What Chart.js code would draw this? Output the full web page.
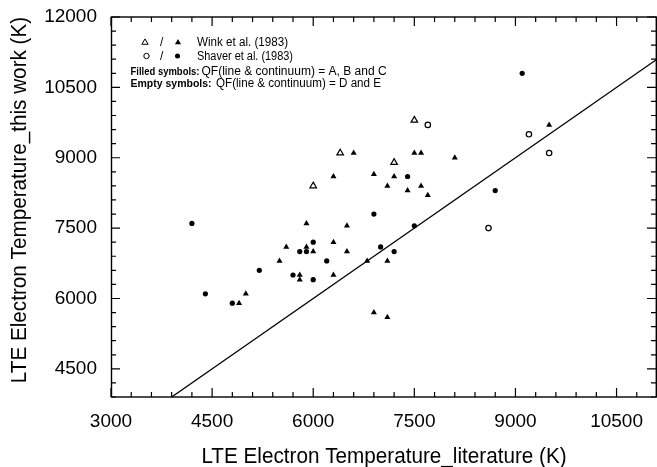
<!DOCTYPE html>
<html>
<head>
<meta charset="utf-8">
<script src="https://cdn.jsdelivr.net/npm/chart.js@4.4.1/dist/chart.umd.min.js"></script>
<style>
  html, body { margin: 0; padding: 0; background: #fff; }
</style>
</head>
<body>
<canvas id="tempChart" width="657" height="467"></canvas>
<script>
// ticks
const xTicks = [3000, 4500, 6000, 7500, 9000, 10500];
const yTicks = [4500, 6000, 7500, 9000, 10500, 12000];

// Wink et al. (1983)
const winkFilled = [
  [6600, 9100], [7500, 9100], [7600, 9100], [8100, 9000], [6300, 8600], [6900, 8650],
  [7200, 8600], [7100, 8400], [7600, 8400], [7400, 8300], [7700, 8200], [9500, 9700],
  [5900, 7600], [6500, 7550], [5600, 7100], [5900, 7100], [6300, 7200], [6000, 7000],
  [6500, 7000], [5500, 6800], [6800, 6800], [7100, 6800], [5800, 6500], [5800, 6400],
  [6300, 6500], [4900, 5900], [5000, 6100], [6900, 5700], [7100, 5600]
];
const winkEmpty = [[6400, 9100], [7200, 8900], [6000, 8400], [7500, 9800]];

// Shaver et al. (1983)
const shaverFilled = [
  [9100, 10800], [8700, 8300], [7400, 8600], [7500, 7550], [6900, 7800], [4200, 7600],
  [6000, 7200], [5900, 7000], [5800, 7000], [6200, 6800], [7000, 7100], [7200, 7000],
  [5200, 6600], [5700, 6500], [6000, 6400], [4400, 6100], [4800, 5900]
];
const shaverEmpty = [[9500, 9100], [9200, 9500], [8600, 7500], [7700, 9700]];

// one-to-one line
const oneToOne = [[3900, 3900], [11100, 11100]];

const xRange = [3000, 11100];
const yRange = [3900, 12000];

const pts = arr => arr.map(p => ({ x: p[0], y: p[1] }));
const FONT = '"Liberation Sans", Arial, sans-serif';

const framePlugin = {
  id: 'frame',
  afterDraw(chart) {
    const ctx = chart.ctx;
    const a = chart.chartArea;
    const xs = chart.scales.x, ys = chart.scales.y;
    ctx.save();
    ctx.strokeStyle = '#000';
    ctx.lineWidth = 1.4;
    ctx.strokeRect(a.left + 0.5, a.top, a.right - a.left - 1.2, a.bottom - a.top);

    // inward ticks on all four sides
    ctx.lineWidth = 1.2;
    ctx.beginPath();
    for (let v = xRange[0]; v <= xRange[1]; v += 300) {
      const major = xTicks.includes(v);
      const px = xs.getPixelForValue(v);
      const len = major ? 9 : 5;
      ctx.moveTo(px, a.bottom); ctx.lineTo(px, a.bottom - len);
      ctx.moveTo(px, a.top); ctx.lineTo(px, a.top + len);
    }
    for (let v = yRange[0]; v <= yRange[1]; v += 300) {
      const major = yTicks.includes(v);
      const py = ys.getPixelForValue(v);
      const len = major ? 9 : 5;
      ctx.moveTo(a.left, py); ctx.lineTo(a.left + len, py);
      ctx.moveTo(a.right - 1, py); ctx.lineTo(a.right - 1 - len, py);
    }
    ctx.stroke();

    // axis titles
    ctx.fillStyle = '#000';
    ctx.font = '20.7px ' + FONT;
    ctx.textAlign = 'center';
    ctx.textBaseline = 'alphabetic';
    ctx.save();
    ctx.translate((a.left + a.right) / 2, 463);
    ctx.scale(1, 1.07);
    ctx.fillText('LTE Electron Temperature_literature (K)', 0, 0);
    ctx.restore();
    ctx.save();
    ctx.translate(25.5, 200);
    ctx.rotate(-Math.PI / 2);
    ctx.scale(1, 1.07);
    ctx.fillText('LTE Electron Temperature_this work (K)', 0, 0);
    ctx.restore();

    // legend box
    ctx.lineWidth = 1;
    const tri = (x, y, r, fill) => {
      ctx.beginPath();
      ctx.moveTo(x, y - r);
      ctx.lineTo(x + r * 0.866, y + r * 0.5);
      ctx.lineTo(x - r * 0.866, y + r * 0.5);
      ctx.closePath();
      fill ? ctx.fill() : ctx.stroke();
    };
    const circ = (x, y, r, fill) => {
      ctx.beginPath();
      ctx.arc(x, y, r, 0, Math.PI * 2);
      fill ? ctx.fill() : ctx.stroke();
    };
    tri(145, 42.5, 3.6, false);
    tri(178, 42.5, 3.5, true);
    circ(146.5, 56, 2.7, false);
    circ(177.5, 56, 2.5, true);
    ctx.textAlign = 'left';
    ctx.font = '12px ' + FONT;
    ctx.fillText('/', 160, 46);
    ctx.fillText('/', 160, 60);
    ctx.fillText('Wink et al. (1983)', 197, 46, 91);
    ctx.fillText('Shaver et al. (1983)', 197, 60, 96);

    const row = (bold, boldW, rest, restX, restW, y) => {
      ctx.font = 'bold 10.5px ' + FONT;
      ctx.fillText(bold, 130.5, y, boldW);
      ctx.font = '12px ' + FONT;
      ctx.fillText(rest, restX, y, restW);
    };
    row('Filled symbols:', 69, 'QF(line & continuum) = A, B and C', 201.5, 188, 74.7);
    row('Empty symbols:', 83, 'QF(line & continuum) = D and E', 216, 165, 86.5);
    ctx.restore();
  }
};

const scaleBase = (range, tickList, pad) => ({
  type: 'linear',
  min: range[0],
  max: range[1],
  afterBuildTicks: s => { s.ticks = tickList.map(v => ({ value: v })); },
  grid: { display: false, drawTicks: false },
  border: { display: false },
  ticks: {
    color: '#000',
    font: { family: FONT, size: 19 },
    padding: pad,
    maxRotation: 0,
    autoSkip: false,
    callback: v => String(v)
  }
});

const xScale = scaleBase(xRange, xTicks, 13);
xScale.afterFit = s => { s.height = 70; s.paddingLeft = 0; s.paddingRight = 0; };
const yScale = scaleBase(yRange, yTicks, 14);
yScale.afterFit = s => { s.width = 111; s.paddingTop = 0; s.paddingBottom = 0; };

new Chart(document.getElementById('tempChart'), {
  type: 'scatter',
  data: {
    datasets: [
      {
        label: 'Wink filled',
        data: pts(winkFilled),
        pointStyle: 'triangle',
        pointRadius: 3.5,
        backgroundColor: '#000',
        borderColor: '#000',
        borderWidth: 0
      },
      {
        label: 'Wink empty',
        data: pts(winkEmpty),
        pointStyle: 'triangle',
        pointRadius: 3.8,
        backgroundColor: 'rgba(255,255,255,0)',
        borderColor: '#000',
        borderWidth: 1.2
      },
      {
        label: 'Shaver filled',
        data: pts(shaverFilled),
        pointStyle: 'circle',
        pointRadius: 2.6,
        backgroundColor: '#000',
        borderColor: '#000',
        borderWidth: 0
      },
      {
        label: 'Shaver empty',
        data: pts(shaverEmpty),
        pointStyle: 'circle',
        pointRadius: 2.7,
        backgroundColor: '#fff',
        borderColor: '#000',
        borderWidth: 1.2
      },
      {
        label: '1:1',
        data: pts(oneToOne),
        showLine: true,
        pointRadius: 0,
        borderColor: '#000',
        borderWidth: 1.3,
        order: 10
      }
    ]
  },
  options: {
    responsive: false,
    animation: false,
    layout: { autoPadding: false, padding: { left: 0, top: 17, right: 0, bottom: 0 } },
    plugins: { legend: { display: false }, tooltip: { enabled: false } },
    scales: { x: xScale, y: yScale }
  },
  plugins: [framePlugin]
});
</script>
</body>
</html>
